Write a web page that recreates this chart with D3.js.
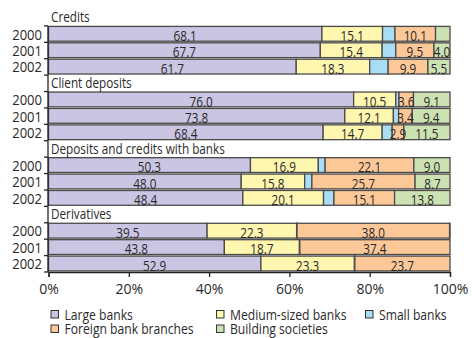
<!DOCTYPE html>
<html>
<head>
<meta charset="utf-8">
<script src="https://cdn.jsdelivr.net/npm/d3@7/dist/d3.min.js"></script>
<style>
  html, body { margin: 0; padding: 0; background: #fff; }
  svg { display: block; }
  text { font-family: "Open Sans", "Noto Sans", sans-serif; fill: #2a2a2a; }
</style>
</head>
<body>
<svg id="chart" width="472" height="338"></svg>
<script>
// Market shares by bank type, per balance-sheet item and year (percent)
const groups = ["Credits", "Client deposits", "Deposits and credits with banks", "Derivatives"];
const years = ["2000", "2001", "2002"];
const seriesNames = ["Large banks", "Medium-sized banks", "Small banks", "Foreign bank branches", "Building societies"];

// one value per group/year, in the order of groups x years
const largeBanks    = [68.1, 67.7, 61.7, 76.0, 73.8, 68.4, 50.3, 48.0, 48.4, 39.5, 43.8, 52.9];
const mediumBanks   = [15.1, 15.4, 18.3, 10.5, 12.1, 14.7, 16.9, 15.8, 20.1, 22.3, 18.7, 23.3];
const smallBanks    = [3.1, 3.4, 4.6, 0.8, 1.3, 2.5, 1.7, 1.8, 2.6, 0.1, 0.1, 0.1];
const foreignBanks  = [10.1, 9.5, 9.9, 3.6, 3.4, 2.9, 22.1, 25.7, 15.1, 38.0, 37.4, 23.7];
const buildingSoc   = [3.6, 4.0, 5.5, 9.1, 9.4, 11.5, 9.0, 8.7, 13.8, 0.1, 0.0, 0.0];

const xTicks = [0, 20, 40, 60, 80, 100];

const seriesValues = [largeBanks, mediumBanks, smallBanks, foreignBanks, buildingSoc];
const colors = ["#c9c5e2", "#fff6b0", "#a9dcf5", "#fcc898", "#cde2b2"];
// smallest value that still gets an inside label, per series
const minLabel = [2, 2, Infinity, 2.5, 3.8];

// narrow type: regular face squeezed horizontally
const NARROW = 0.81;
function placeText(sel, fx, fy, sx) {
  sel.attr("transform", d => `translate(${fx(d)},${fy(d)}) scale(${sx},1)`);
  return sel;
}

const svg = d3.select("#chart");

// one row per group heading plus one per year
const rows = [];
groups.forEach((g, gi) => {
  rows.push({ type: "group", key: "g" + gi, label: g });
  years.forEach((y, yi) => rows.push({ type: "bar", key: "b" + gi + "_" + yi, label: y, idx: gi * years.length + yi }));
});

const x = d3.scaleLinear().domain([0, 100]).range([48.5, 450]);
const y = d3.scaleBand().domain(rows.map(r => r.key)).range([9.5, 272]).paddingInner(0).paddingOuter(0);
const barH = y.bandwidth() - 1.6;

// stacked rows
const barRows = rows.filter(r => r.type === "bar").map(r => {
  const segs = [];
  let acc = 0;
  seriesValues.forEach((arr, si) => {
    const v = arr[r.idx];
    segs.push({ si, v, x0: acc, x1: acc + v });
    acc += v;
  });
  return { ...r, segs };
});

const barG = svg.append("g");
barRows.forEach(r => {
  const top = y(r.key) + 0.5;
  const g = barG.append("g");
  g.selectAll("rect")
    .data(r.segs.filter(s => s.v > 0))
    .join("rect")
    .attr("x", s => x(s.x0))
    .attr("y", top)
    .attr("width", s => Math.max(0, x(s.x1) - x(s.x0)))
    .attr("height", barH)
    .attr("fill", s => colors[s.si])
    .attr("stroke", "#4a4a4a")
    .attr("stroke-width", 1.3);
  g.selectAll("text")
    .data(r.segs.filter(s => s.v >= minLabel[s.si]))
    .join("text")
    .attr("text-anchor", "middle")
    .attr("font-size", 14.5)
    .call(placeText, s => (x(s.x0) + x(s.x1)) / 2, () => top + barH - 0.3, NARROW)
    .text(s => s.v.toFixed(1));
});

// group headings
svg.append("g").selectAll("text")
  .data(rows.filter(r => r.type === "group"))
  .join("text")
  .attr("font-size", 14.5)
  .call(placeText, () => 51, r => y(r.key) + y.bandwidth() - 3.5, NARROW)
  .text(r => r.label);

// year labels
svg.append("g").selectAll("text")
  .data(barRows)
  .join("text")
  .attr("text-anchor", "end")
  .attr("font-size", 14)
  .call(placeText, () => 42, r => y(r.key) + y.bandwidth() - 2.8, 0.93)
  .text(r => r.label);

// vertical axis with a tick at every row boundary
const boundaries = rows.map(r => y(r.key)).slice(1).concat([y.range()[1]]);
const yAxis = svg.append("g").attr("stroke", "#222").attr("stroke-width", 1.3);
yAxis.append("line").attr("x1", 48).attr("x2", 48).attr("y1", y(rows[1].key)).attr("y2", y.range()[1]);
yAxis.selectAll("line.tick")
  .data(boundaries)
  .join("line")
  .attr("class", "tick")
  .attr("x1", 44).attr("x2", 48)
  .attr("y1", d => d).attr("y2", d => d);

// horizontal axis
const xAxis = d3.axisBottom(x)
  .tickValues(xTicks)
  .tickFormat(d => d + "%")
  .tickSize(5)
  .tickPadding(7);
const xg = svg.append("g").attr("transform", `translate(0,${y.range()[1]})`).call(xAxis);
xg.select(".domain").attr("stroke", "#222").attr("stroke-width", 1.3);
xg.selectAll(".tick line").attr("stroke", "#222").attr("stroke-width", 1.3);
xg.selectAll(".tick text")
  .attr("font-family", "'Open Sans', 'Noto Sans', sans-serif")
  .attr("font-size", 14)
  .attr("fill", "#2a2a2a");

// legend
const legendPos = [[50.5, 0], [216, 0], [365, 0], [50.5, 1], [216, 1]];
const lg = svg.append("g");
seriesNames.forEach((name, i) => {
  const [lx, row] = legendPos[i];
  const ly = 310 + row * 14.5;
  lg.append("rect").attr("x", lx + 0.5).attr("y", ly + 0.5).attr("width", 7.5).attr("height", 7.5)
    .attr("fill", colors[i]).attr("stroke", "#333").attr("stroke-width", 1);
  lg.append("text").datum(name)
    .attr("font-size", 15)
    .call(placeText, () => lx + 14, () => ly + 9.5, NARROW)
    .text(name);
});
</script>
</body>
</html>
